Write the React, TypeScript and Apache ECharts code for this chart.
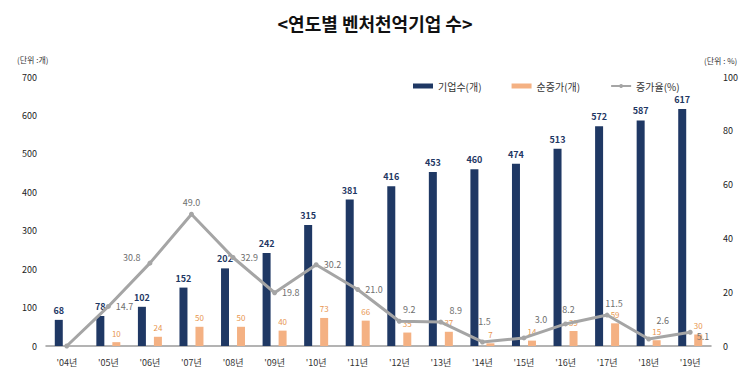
import React, { useEffect, useRef } from "react";
import * as echarts from "echarts";

const years = ["'04년", "'05년", "'06년", "'07년", "'08년", "'09년", "'10년", "'11년", "'12년", "'13년", "'14년", "'15년", "'16년", "'17년", "'18년", "'19년"];
const firms = [68, 78, 102, 152, 202, 242, 315, 381, 416, 453, 460, 474, 513, 572, 587, 617];
const netIncrease = [null, 10, 24, 50, 50, 40, 73, 66, 35, 37, 7, 14, 39, 59, 15, 30];
const growthRate = [0, 14.7, 30.8, 49.0, 32.9, 19.8, 30.2, 21.0, 9.2, 8.9, 1.5, 3.0, 8.2, 11.5, 2.6, 5.1];
// label placement per growth point: [position, offsetX, offsetY]
const growthLabelPos: [string, number, number][] = [
  ["top", 0, 0], ["right", 0, 0], ["left", -2, -6], ["top", 0, 0], ["right", 0, 0],
  ["right", 0, 0], ["right", 0, 0], ["right", 0, 0], ["top", 10, 0], ["top", 15, 0],
  ["top", 2, -8], ["top", 17, -6], ["top", 3, -2], ["top", 7, 0], ["top", 14, -7], ["right", -1, 4],
];

const NAVY = "#1f3864";
const ORANGE = "#f4b183";
const ORANGE_TXT = "#e8964f";
const GRAY = "#a5a5a5";

export default function App() {
  const ref = useRef<HTMLDivElement>(null);
  useEffect(() => {
    document.body.style.margin = "0";
    if (!ref.current) return;
    const chart = echarts.init(ref.current, null, { renderer: "svg" });
    const font = "'Noto Sans CJK KR', 'Noto Sans', sans-serif";
    chart.setOption({
      animation: false,
      textStyle: { fontFamily: font },
      title: {
        text: "<연도별 벤처천억기업 수>",
        left: "center",
        top: 9,
        textStyle: { fontSize: 18, fontWeight: "bold", color: "#111", fontFamily: font },
      },
      legend: {
        left: 408,
        top: 76,
        itemWidth: 20,
        itemHeight: 5,
        itemGap: 30,
        textStyle: { fontSize: 10, color: "#333" },
        data: [
          { name: "기업수(개)", icon: "rect" },
          { name: "순증가(개)", icon: "rect" },
          { name: "증가율(%)" },
        ],
      },
      graphic: [
        { type: "text", left: 17, top: 55, style: { text: "(단위 :개)", fontSize: 8, fill: "#333", fontFamily: font } },
        { type: "text", left: 704, top: 56, style: { text: "(단위 : %)", fontSize: 8, fill: "#333", fontFamily: font } },
      ],
      grid: { left: 46, right: 39, top: 77, bottom: 35, containLabel: false },
      xAxis: {
        type: "category",
        data: years,
        axisLine: { lineStyle: { color: "#9a9a9a", width: 1.5 } },
        axisTick: { show: false },
        axisLabel: { fontSize: 9, color: "#333", margin: 12 },
      },
      yAxis: [
        {
          type: "value",
          min: 0,
          max: 700,
          interval: 100,
          splitLine: { show: false },
          axisLine: { show: false },
          axisTick: { show: false },
          axisLabel: { fontSize: 9, color: "#222", margin: 9 },
        },
        {
          type: "value",
          min: 0,
          max: 100,
          interval: 20,
          splitLine: { show: false },
          axisLine: { show: false },
          axisTick: { show: false },
          axisLabel: { fontSize: 9, color: "#222", margin: 12 },
        },
      ],
      series: [
        {
          name: "기업수(개)",
          type: "bar",
          data: firms,
          barWidth: 8,
          barGap: "100%",
          itemStyle: { color: NAVY },
          label: { show: true, position: "top", fontSize: 9, fontWeight: "bold", color: NAVY, distance: 5 },
          z: 2,
        },
        {
          name: "순증가(개)",
          type: "bar",
          data: netIncrease,
          barWidth: 8,
          itemStyle: { color: ORANGE },
          label: { show: true, position: "top", fontSize: 8, color: ORANGE_TXT, distance: 5 },
          z: 2,
        },
        {
          name: "증가율(%)",
          type: "line",
          yAxisIndex: 1,
          data: growthRate.map((v, i) => ({
            value: v,
            label: {
              show: i > 0,
              position: growthLabelPos[i][0],
              offset: [growthLabelPos[i][1], growthLabelPos[i][2]],
            },
          })),
          symbol: "circle",
          symbolSize: 5,
          lineStyle: { color: GRAY, width: 3 },
          itemStyle: { color: GRAY },
          label: {
            show: true,
            fontSize: 9,
            color: "#6f6f6f",
            formatter: (p: any) => Number(p.value).toFixed(1),
          },
          z: 5,
        },
      ],
    });
    return () => chart.dispose();
  }, []);
  return <div ref={ref} style={{ width: 750, height: 381 }} />;
}
